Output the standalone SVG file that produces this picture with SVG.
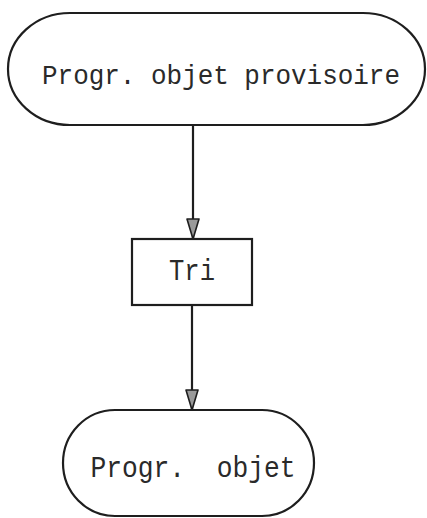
<svg xmlns="http://www.w3.org/2000/svg" width="427" height="518" viewBox="0 0 427 518">
<defs>
<style>
.shape{fill:#fff;stroke:#1e1e1e;stroke-width:2.2}
.lbl{font-family:"Liberation Mono","DejaVu Sans Mono",monospace;font-size:30px;fill:#2a2a2a;text-anchor:middle}
.big{font-size:28px}
.conn{stroke:#1e1e1e;stroke-width:2.2;fill:none}
</style>
<marker id="arr" markerUnits="userSpaceOnUse" markerWidth="24" markerHeight="16" refX="22" refY="7" orient="auto" viewBox="0 0 24 14">
<path d="M2,1 L2,13 L22,7 Z" fill="#9a9a9a" stroke="#1e1e1e" stroke-width="1.6" stroke-linejoin="round"/>
</marker>
</defs>
<rect width="427" height="518" fill="#fff"/>
<g id="connectors">
<line class="conn" x1="193" y1="125" x2="193" y2="239" marker-end="url(#arr)"/>
<line class="conn" x1="192" y1="305" x2="192" y2="410" marker-end="url(#arr)"/>
</g>
<g id="node-provisoire">
<rect class="shape" x="8" y="13" width="417" height="112" rx="62" ry="56"/>
<text class="lbl big" x="221" y="84" textLength="358" lengthAdjust="spacingAndGlyphs">Progr. objet provisoire</text>
</g>
<g id="node-tri">
<rect class="shape" x="132" y="239" width="120" height="66"/>
<text class="lbl" x="192" y="280" textLength="46" lengthAdjust="spacingAndGlyphs">Tri</text>
</g>
<g id="node-objet">
<rect class="shape" x="63" y="410" width="251" height="106" rx="52" ry="53"/>
<text class="lbl" x="193" y="477" xml:space="preserve" textLength="205" lengthAdjust="spacingAndGlyphs">Progr.  objet</text>
</g>
</svg>
